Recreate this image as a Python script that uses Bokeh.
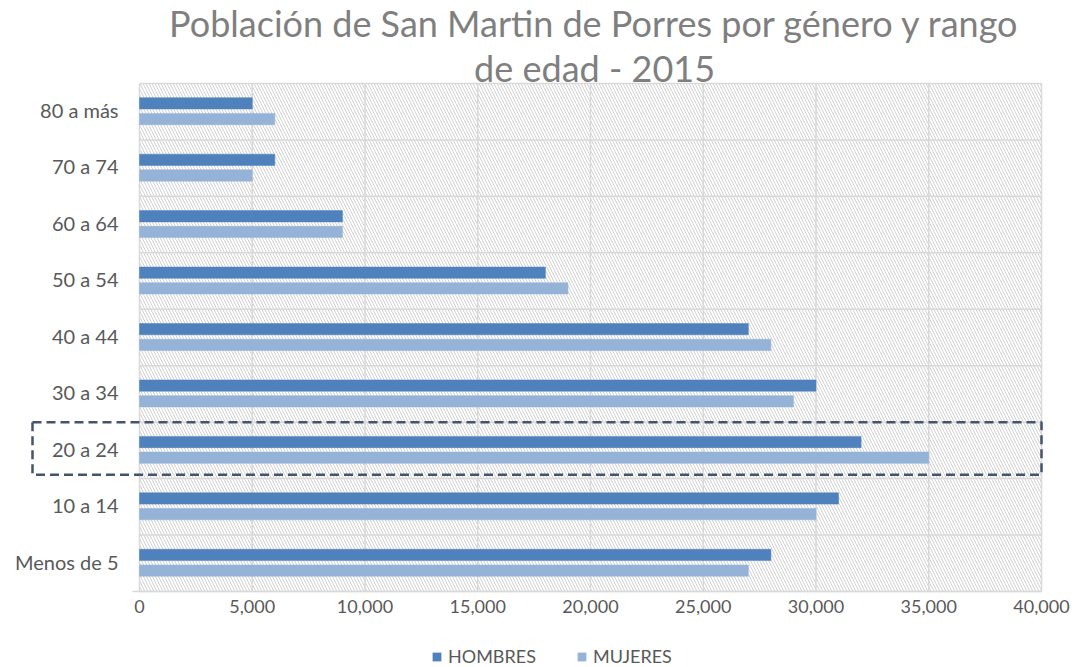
from bokeh.plotting import figure
from bokeh.layouts import column
from bokeh.models import Range1d, FixedTicker, NumeralTickFormatter, ColumnDataSource
from bokeh.core.properties import value
from bokeh.embed import file_html
from bokeh.resources import INLINE

# ---- data (bottom to top) ----
categories = ["Menos de 5", "10 a 14", "20 a 24", "30 a 34", "40 a 44",
              "50 a 54", "60 a 64", "70 a 74", "80 a más"]
hombres = [28000, 31000, 32000, 30000, 27000, 18000, 9000, 6000, 5000]
mujeres = [27000, 30000, 35000, 29000, 28000, 19000, 9000, 5000, 6000]
series_names = ["HOMBRES", "MUJERES"]
x_ticks = [0, 5000, 10000, 15000, 20000, 25000, 30000, 35000, 40000]
title_lines = ["Población de San Martin de Porres por género y rango", "de edad - 2015"]
highlight = "20 a 24"

FONT = "Lato"
DARK = "#4F81BD"
LIGHT = "#95B3D7"
GRID = "#D9D9D9"

n = len(categories)
centers = [i + 0.5 for i in range(n)]
xmax = x_ticks[-1]

p = figure(frame_width=1052, frame_height=593,
           x_range=Range1d(-5720.6, 40931), y_range=Range1d(-0.0354, 10.47),
           output_backend="svg", toolbar_location=None,
           min_border_left=10, min_border_right=8, min_border_top=0, min_border_bottom=0)
p.outline_line_color = None
p.background_fill_color = "white"
p.border_fill_color = "white"
p.yaxis.visible = False
p.xgrid.visible = False
p.ygrid.visible = False

# hatched plot area
p.quad(left=[0], right=[xmax], bottom=[0], top=[n], fill_color="white", line_color=None,
       hatch_pattern="\\", hatch_color="#D0D0D0", hatch_scale=6, hatch_weight=1)

# gridlines
p.segment(x0=x_ticks, x1=x_ticks, y0=[0] * len(x_ticks), y1=[n] * len(x_ticks),
          line_color=GRID, line_width=1.5)
ys = list(range(n + 1))
p.segment(x0=[0] * len(ys), x1=[xmax] * len(ys), y0=ys, y1=ys, line_color=GRID, line_width=1.5)
# axis line at bottom
p.segment(x0=[-310], x1=[xmax], y0=[0], y1=[0], line_color=GRID, line_width=1.5)

# bars
src = ColumnDataSource(dict(
    cat=categories,
    yh=[c + 0.148 for c in centers],
    ym=[c - 0.13 for c in centers],
    h=hombres, m=mujeres))
p.hbar(y="yh", right="h", left=0, height=0.2, source=src, fill_color=DARK, line_color=DARK, line_width=0.5)
p.hbar(y="ym", right="m", left=0, height=0.2, source=src, fill_color=LIGHT, line_color=LIGHT, line_width=0.5)

# category labels
p.text(x=[-931] * n, y=[c + 0.03 for c in centers], text=categories,
       text_align="right", text_baseline="middle", text_font=value(FONT),
       text_font_size="20px", text_color="#595959")

# highlight box
hi = categories.index(highlight)
p.quad(left=[-4745], right=[xmax], bottom=[hi + 0.07], top=[hi + 1.0],
       fill_color=None, line_color="#44546A", line_width=2.5, line_dash="9 5")

# title
p.text(x=[20180, 20180], y=[10.08, 9.27], text=title_lines,
       text_align="center", text_baseline="middle", text_font=value(FONT),
       text_font_size="36px", text_color="#7F7F7F")

# x axis
ax = p.xaxis[0]
ax.ticker = FixedTicker(ticks=x_ticks)
ax.formatter = NumeralTickFormatter(format="0,0")
ax.axis_line_color = None
ax.major_tick_line_color = None
ax.minor_tick_line_color = None
ax.major_tick_out = 0
ax.major_tick_in = 0
ax.major_label_text_font = FONT
ax.major_label_text_font_size = "18px"
ax.major_label_text_color = "#595959"
ax.major_label_standoff = 6

# legend strip (separate small figure; its bars sit outside its visible range)
lg = figure(frame_width=1052, frame_height=52, output_backend="svg", toolbar_location=None,
            x_range=Range1d(-20, -10), y_range=Range1d(50, 51),
            min_border_left=10, min_border_right=8, min_border_top=0, min_border_bottom=0)
lg.outline_line_color = None
lg.axis.visible = False
lg.grid.visible = False
lg.hbar(y="yh", right="h", left=0, height=0.2, source=src, fill_color=DARK, line_color=None,
        legend_label=series_names[0])
lg.hbar(y="ym", right="m", left=0, height=0.2, source=src, fill_color=LIGHT, line_color=None,
        legend_label=series_names[1])
leg = lg.legend[0]
leg.orientation = "horizontal"
leg.location = (421, 0)
leg.glyph_width = 11
leg.glyph_height = 11
leg.spacing = 40
leg.label_standoff = 6
leg.label_text_font = FONT
leg.label_text_font_size = "18px"
leg.label_text_color = "#595959"
leg.border_line_color = None
leg.background_fill_alpha = 0
leg.margin = 0
leg.padding = 0

layout = column(p, lg, spacing=0)
open("out.html", "w").write(file_html(layout, INLINE))
